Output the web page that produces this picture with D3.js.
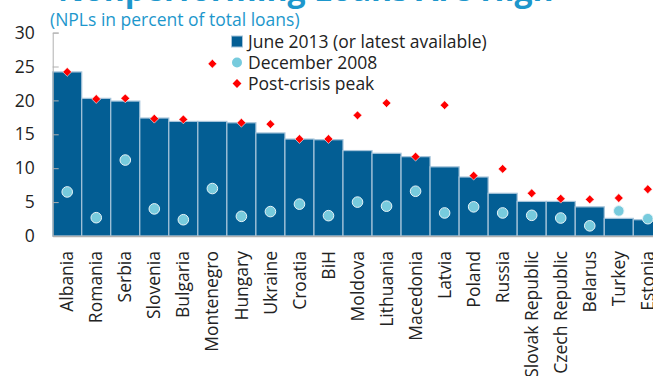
<!DOCTYPE html>
<html>
<head>
<meta charset="utf-8">
<script src="https://cdn.jsdelivr.net/npm/d3@7"></script>
<style>
  body { margin: 0; background: #fff; }
  svg { display: block; }
  svg text { font-family: "Open Sans", "Noto Sans", sans-serif; }
</style>
</head>
<body>
<script>
// NPL ratios
const countries = ["Albania", "Romania", "Serbia", "Slovenia", "Bulgaria", "Montenegro", "Hungary",
  "Ukraine", "Croatia", "BiH", "Moldova", "Lithuania", "Macedonia", "Latvia", "Poland", "Russia",
  "Slovak Republic", "Czech Republic", "Belarus", "Turkey", "Estonia"];
const june2013 = [24.2, 20.3, 19.9, 17.4, 16.9, 16.9, 16.7, 15.2, 14.3, 14.2, 12.6, 12.2, 11.7,
  10.2, 8.7, 6.3, 5.1, 5.1, 4.3, 2.6, 2.4];
const dec2008 = [6.5, 2.7, 11.2, 4.0, 2.4, 7.0, 2.9, 3.6, 4.7, 3.0, 5.0, 4.4, 6.6, 3.4, 4.3, 3.4,
  3.05, 2.65, 1.5, 3.7, 2.55];
const peak = [24.2, 20.2, 20.3, 17.3, 17.2, 25.4, 16.7, 16.5, 14.3, 14.3, 17.8, 19.6, 11.7, 19.3,
  8.9, 9.9, 6.3, 5.5, 5.4, 5.6, 6.9];
const yTicks = [0, 5, 10, 15, 20, 25, 30];
const legendLabels = ["June 2013 (or latest available)", "December 2008", "Post-crisis peak"];

const W = 653, H = 376;
const margin = {left: 52.7, top: 32.6};
const plotW = 29.03 * countries.length;
const plotH = 236 - margin.top;

const barColor = "#035e94", dotColor = "#77cbdd", peakColor = "#ff0000";

const svg = d3.select("body").append("svg").attr("width", W).attr("height", H);

// header (the title line is cropped at the top in the original)
svg.append("text").attr("x", 58).attr("y", 1)
  .attr("font-size", 32).attr("font-weight", "bold").attr("fill", "#1d97cc")
  .text("Nonperforming Loans Are High");
svg.append("text").attr("x", 50).attr("y", 26)
  .attr("font-size", 17.5).attr("fill", "#1d97cc")
  .text("(NPLs in percent of total loans)");

const g = svg.append("g").attr("transform", "translate(" + margin.left + "," + margin.top + ")");

const x = d3.scaleBand().domain(countries).range([0, plotW]).padding(0);
const y = d3.scaleLinear().domain([0, 30]).range([plotH, 0]);

// bars
g.selectAll("rect.bar").data(june2013).join("rect")
  .attr("class", "bar")
  .attr("x", (d, i) => x(countries[i]))
  .attr("y", d => y(d))
  .attr("width", x.bandwidth())
  .attr("height", d => plotH - y(d))
  .attr("fill", barColor)
  .attr("stroke", "#a6c4da")
  .attr("stroke-width", 1.2);

// y axis
const yAxis = g.append("g")
  .call(d3.axisLeft(y).tickValues(yTicks).tickSize(-6).tickPadding(18));
yAxis.attr("font-family", null);
yAxis.select(".domain").attr("stroke", "#b0b0b0");
yAxis.selectAll(".tick line").attr("stroke", "#b0b0b0");
yAxis.selectAll("text").attr("font-size", 17.5).attr("fill", "#222");

// x axis
const xAxis = g.append("g").attr("transform", "translate(0," + plotH + ")")
  .call(d3.axisBottom(x).tickSize(0));
xAxis.attr("font-family", null);
xAxis.select(".domain").attr("stroke", "#b0b0b0").attr("stroke-width", 1.5);
xAxis.selectAll("text")
  .attr("font-size", 17.5).attr("fill", "#222")
  .attr("transform", "rotate(-90)")
  .attr("text-anchor", "end")
  .attr("x", -15).attr("y", 0).attr("dy", "0.35em");

// December 2008 dots
g.selectAll("circle.d08").data(dec2008).join("circle")
  .attr("class", "d08")
  .attr("cx", (d, i) => x(countries[i]) + x.bandwidth() / 2)
  .attr("cy", d => y(d))
  .attr("r", 5.3)
  .attr("fill", dotColor)
  .attr("stroke", "#e8f4f8")
  .attr("stroke-width", 1);

// post-crisis peak diamonds
const diamond = d3.symbol().type(d3.symbolDiamond2).size(50);
g.selectAll("path.peak").data(peak).join("path")
  .attr("class", "peak")
  .attr("d", diamond)
  .attr("transform", (d, i) => "translate(" + (x(countries[i]) + x.bandwidth() / 2) + "," + y(d) + ")")
  .attr("fill", peakColor)
  .attr("stroke", "#fff")
  .attr("stroke-width", 0.6);

// legend
const leg = svg.append("g").attr("transform", "translate(237,41.5)");
leg.append("rect").attr("x", -5.5).attr("y", -5.5).attr("width", 11).attr("height", 11)
  .attr("fill", barColor).attr("stroke", "#a6c4da");
leg.append("circle").attr("cx", 0).attr("cy", 21).attr("r", 5).attr("fill", dotColor);
leg.append("path").attr("d", diamond).attr("transform", "translate(0,42)").attr("fill", peakColor);
leg.selectAll("text").data(legendLabels).join("text")
  .attr("x", 11).attr("y", (d, i) => i * 21).attr("dy", "0.35em")
  .attr("font-size", 17.5).attr("fill", "#222")
  .text(d => d);
</script>
</body>
</html>
